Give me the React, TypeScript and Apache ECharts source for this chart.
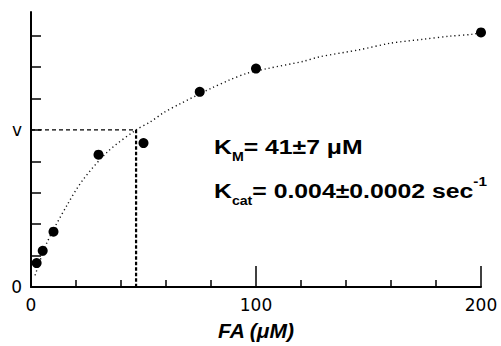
import React, { useEffect, useRef } from 'react';
import * as echarts from 'echarts';

// Measured data points: substrate FA (µM) vs velocity (relative units)
const substrateUM = [2.5, 5.2, 10, 30, 50, 75, 100, 200];
const velocity = [0.76, 1.15, 1.76, 4.21, 4.58, 6.21, 6.95, 8.1];

// Fitted curve
const fitX = [1.8, 7, 16, 23, 34, 46.7, 53, 59, 66, 80, 88, 96, 105, 121, 128, 146, 160, 174, 186, 196, 200];
const fitY = [0.37, 1.4, 2.6, 3.4, 4.3, 5.0, 5.25, 5.55, 5.82, 6.32, 6.58, 6.8, 6.95, 7.18, 7.32, 7.55, 7.76, 7.88, 7.98, 8.04, 8.1];

// Half-maximal velocity guide
const kmX = 46.7;
const halfV = 5;

// Axis ticks/labels
const yTickValues = [0, 1, 2, 3, 4, 5, 6, 7, 8];
const yLabelValues = [0, 5];
const yLabelTexts = ['0', 'v'];
const xMin = 0;
const xMax = 200;
const xInterval = 100;
const yMin = 0;
const yMax = 8.75;

const xTitle = 'FA (μM)';
const kmText = '{k|K}{s|M}{n|= 41±7 μM}';
const kcatText = '{k|K}{s|cat}{n|= 0.004±0.0002 sec}{p|-1}';

export default function App() {
  const ref = useRef<HTMLDivElement>(null);
  useEffect(() => {
    document.body.style.margin = '0';
    if (!ref.current) return;
    const chart = echarts.init(ref.current, null, { renderer: 'svg' });
    const richStyle = {
      k: { fontSize: 21, fontWeight: 'bold', fontFamily: 'Liberation Sans', lineHeight: 32, verticalAlign: 'middle' },
      n: { fontSize: 21, fontWeight: 'bold', fontFamily: 'Liberation Sans', lineHeight: 32, verticalAlign: 'middle' },
      s: { fontSize: 12, fontWeight: 'bold', fontFamily: 'Liberation Sans', lineHeight: 10, verticalAlign: 'bottom' },
      p: { fontSize: 13, fontWeight: 'bold', fontFamily: 'Liberation Sans', lineHeight: 30, verticalAlign: 'top' },
    };
    chart.setOption({
      animation: false,
      grid: { left: 31, right: 20, top: 12, bottom: 57, containLabel: false },
      xAxis: {
        type: 'value',
        min: xMin,
        max: xMax,
        interval: xInterval,
        name: xTitle,
        nameLocation: 'middle',
        nameGap: 33,
        nameTextStyle: { fontSize: 21, fontWeight: 'bold', fontStyle: 'italic', fontFamily: 'Liberation Sans', color: '#000' },
        axisLine: { lineStyle: { color: '#000', width: 2 } },
        axisTick: { inside: true, length: 21, lineStyle: { color: '#000', width: 1.5 } },
        minorTick: { show: true, splitNumber: 5, length: 7, lineStyle: { color: '#000', width: 1.5 } },
        axisLabel: { margin: 9, fontSize: 17, fontFamily: 'DejaVu Sans', color: '#000' },
        splitLine: { show: false },
      },
      yAxis: {
        type: 'value',
        min: yMin,
        max: yMax,
        interval: 1,
        axisLine: { lineStyle: { color: '#000', width: 2 } },
        axisTick: { inside: true, length: 10, customValues: yTickValues, lineStyle: { color: '#000', width: 1.5 } },
        axisLabel: {
          margin: 9,
          fontSize: 17,
          fontFamily: 'DejaVu Sans',
          color: '#000',
          customValues: yLabelValues,
          formatter: (v: number) => {
            const i = yLabelValues.indexOf(v);
            return i >= 0 ? yLabelTexts[i] : '';
          },
        },
        splitLine: { show: false },
      },
      series: [
        {
          type: 'line',
          data: fitX.map((x, i) => [x, fitY[i]]),
          showSymbol: false,
          smooth: 0.3,
          lineStyle: { color: '#111', width: 1.4, type: [1.2, 3] },
          z: 2,
        },
        {
          type: 'line',
          data: [[0, halfV], [kmX, halfV]],
          showSymbol: false,
          lineStyle: { color: '#000', width: 1.4, type: [4, 3] },
          z: 3,
        },
        {
          type: 'line',
          data: [[kmX, halfV], [kmX, 0]],
          showSymbol: false,
          lineStyle: { color: '#000', width: 2.2, type: [3.5, 2] },
          z: 3,
        },
        {
          type: 'scatter',
          data: substrateUM.map((x, i) => [x, velocity[i]]),
          symbol: 'circle',
          symbolSize: 10,
          itemStyle: { color: '#000', opacity: 1 },
          z: 4,
        },
      ],
      graphic: [
        {
          type: 'text',
          x: 214,
          y: 131,
          scaleX: 1.18,
          style: { text: kmText, rich: richStyle, fill: '#000', verticalAlign: 'top' },
        },
        {
          type: 'text',
          x: 214,
          y: 175,
          scaleX: 1.18,
          style: { text: kcatText, rich: richStyle, fill: '#000', verticalAlign: 'top' },
        },
      ],
    });
    return () => chart.dispose();
  }, []);
  return <div ref={ref} style={{ width: 501, height: 346 }} />;
}
